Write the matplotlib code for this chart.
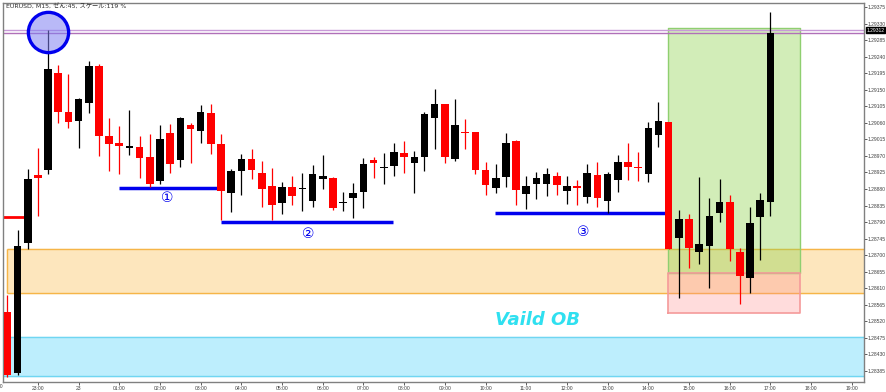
# EURUSD M15 - Vaild OB chart

import numpy as np
import matplotlib.pyplot as plt

plt.rcParams['font.family'] = ['DejaVu Sans', 'Noto Sans CJK JP']

# Datos de velas (precio)
opens = [1.28545, 1.28379, 1.28733, 1.28918, 1.28932, 1.29195, 1.29089, 1.29065,
         1.29114, 1.29215, 1.29024, 1.29005, 1.28991, 1.28994, 1.28967, 1.28902,
         1.29032, 1.28959, 1.29054, 1.29038, 1.29087, 1.29002, 1.28869, 1.28929,
         1.28962, 1.28923, 1.28888, 1.28842, 1.28885, 1.28880, 1.28847, 1.28907,
         1.28910, 1.28842, 1.28855, 1.28872, 1.28959, 1.28937, 1.28943, 1.28978,
         1.28951, 1.28967, 1.29073, 1.29111, 1.28962, 1.29035, 1.29035, 1.28932,
         1.28883, 1.28913, 1.29010, 1.28866, 1.28894, 1.28894, 1.28915, 1.28875,
         1.28888, 1.28858, 1.28918, 1.28847, 1.28904, 1.28953, 1.28940, 1.28921,
         1.29027, 1.29062, 1.28747, 1.28798, 1.28709, 1.28725, 1.28815, 1.28845,
         1.28709, 1.28638, 1.28804, 1.28845]
highs = [1.28592, 1.28768, 1.28934, 1.28991, 1.29312, 1.29217, 1.29193, 1.29127,
         1.29228, 1.29220, 1.29073, 1.29051, 1.29095, 1.29024, 1.29030, 1.29054,
         1.29057, 1.29076, 1.29059, 1.29108, 1.29111, 1.29030, 1.28934, 1.28975,
         1.28989, 1.28956, 1.28937, 1.28899, 1.28915, 1.28923, 1.28945, 1.28972,
         1.28913, 1.28872, 1.28896, 1.28964, 1.28967, 1.28978, 1.29005, 1.29010,
         1.28983, 1.29089, 1.29152, 1.29111, 1.29125, 1.29070, 1.29035, 1.28953,
         1.28948, 1.29032, 1.29013, 1.28915, 1.28926, 1.28937, 1.28926, 1.28915,
         1.28904, 1.28948, 1.28953, 1.28926, 1.28972, 1.29005, 1.28981, 1.29062,
         1.29117, 1.29062, 1.28823, 1.28812, 1.28913, 1.28855, 1.28907, 1.28864,
         1.28719, 1.28831, 1.28869, 1.29361]
lows = [1.28369, 1.28374, 1.28717, 1.28807, 1.28921, 1.29059, 1.29046, 1.28991,
        1.29087, 1.28970, 1.28929, 1.28921, 1.28972, 1.28910, 1.28885, 1.28894,
        1.28923, 1.28940, 1.28951, 1.29005, 1.28975, 1.28796, 1.28817, 1.28864,
        1.28907, 1.28831, 1.28796, 1.28812, 1.28836, 1.28820, 1.28831, 1.28880,
        1.28823, 1.28820, 1.28801, 1.28828, 1.28910, 1.28894, 1.28915, 1.28923,
        1.28869, 1.28929, 1.28989, 1.28951, 1.28956, 1.28989, 1.28921, 1.28864,
        1.28869, 1.28885, 1.28836, 1.28826, 1.28853, 1.28861, 1.28864, 1.28839,
        1.28836, 1.28842, 1.28831, 1.28815, 1.28872, 1.28904, 1.28902, 1.28899,
        1.28994, 1.28717, 1.28583, 1.28665, 1.28676, 1.28611, 1.28790, 1.28684,
        1.28567, 1.28597, 1.28687, 1.28807]
closes = [1.28374, 1.28725, 1.28907, 1.28910, 1.29206, 1.29089, 1.29062, 1.29125,
          1.29215, 1.29024, 1.29002, 1.28997, 1.28997, 1.28964, 1.28894, 1.29016,
          1.28948, 1.29073, 1.29043, 1.29089, 1.29002, 1.28875, 1.28929, 1.28962,
          1.28932, 1.28880, 1.28836, 1.28885, 1.28861, 1.28883, 1.28921, 1.28915,
          1.28828, 1.28845, 1.28869, 1.28948, 1.28951, 1.28940, 1.28981, 1.28967,
          1.28967, 1.29084, 1.29111, 1.28967, 1.29054, 1.29032, 1.28932, 1.28891,
          1.28910, 1.29005, 1.28877, 1.28888, 1.28910, 1.28921, 1.28891, 1.28888,
          1.28883, 1.28923, 1.28855, 1.28921, 1.28953, 1.28940, 1.28937, 1.29046,
          1.29065, 1.28717, 1.28798, 1.28719, 1.28730, 1.28807, 1.28845, 1.28717,
          1.28643, 1.28787, 1.28850, 1.29304]

# Eje de tiempo (velas de 15 min, la primera a las 22:15)
hour_labels = ['23:00', '23', '01:00', '02:00', '03:00', '04:00', '05:00', '06:00',
               '07:00', '08:00', '09:00', '10:00', '11:00', '12:00', '13:00',
               '14:00', '15:00', '16:00', '17:00', '18:00', '19:00']
price_ticks = [1.28385, 1.28430, 1.28475, 1.28520, 1.28565, 1.28610, 1.28655,
               1.28700, 1.28745, 1.28790, 1.28835, 1.28880, 1.28925, 1.28970,
               1.29015, 1.29060, 1.29105, 1.29150, 1.29195, 1.29240, 1.29285,
               1.29330, 1.29375]

# Zonas y niveles
ob_zone = (1.28597, 1.28716)       # naranja
low_zone = (1.28371, 1.28477)      # celeste
tp_box = (1.28651, 1.29318)        # verde
sl_box = (1.28543, 1.28651)        # rosa
purple_lines = [1.29313, 1.29304]
current_price = 1.29312
levels = [(1.28882, 10.97, 21.0, '①', 15.7, 1.28855),
          (1.28790, 21.0, 37.9, '②', 29.6, 1.28757),
          (1.28815, 47.9, 64.9, '③', 56.6, 1.28763)]

o = np.array(opens)
h = np.array(highs)
l = np.array(lows)
c = np.array(closes)
x = np.arange(len(o))
up = c >= o
col = np.where(up, 'black', '#ff0000')

fig = plt.figure(figsize=(8.86, 3.92), dpi=100)
ax = fig.add_axes([3/886, 10/392, 861/886, 379/392])
xmin, xmax = -0.43, 84.2
ax.set_xlim(xmin, xmax)
ax.set_ylim(1.28355, 1.29386)

# Zonas
ax.fill_between([xmin, xmax], *low_zone, color='#bdeefd', zorder=0)
ax.hlines(low_zone, xmin, xmax, color='#70d6f2', lw=1, zorder=0.5)
ax.fill_between([0, xmax], *ob_zone, color='#fde6bd', zorder=0)
ax.hlines(ob_zone, 0, xmax, color='#f6b548', lw=1, zorder=0.5)
ax.vlines(0, *ob_zone, color='#f6b548', lw=1, zorder=0.5)
ax.fill_between([64.95, 77.9], *tp_box, color='#8fd44f', alpha=0.4, lw=0, zorder=1)
ax.fill_between([64.95, 77.9], *sl_box, color='#ff8c8c', alpha=0.3, lw=0, zorder=1)
ax.plot([64.95, 64.95, 77.9, 77.9, 64.95], [tp_box[0], tp_box[1], tp_box[1], tp_box[0], tp_box[0]],
        color='#8fcf70', lw=1, zorder=1.1)
ax.plot([64.95, 64.95, 77.9, 77.9, 64.95], [sl_box[0], sl_box[1], sl_box[1], sl_box[0], sl_box[0]],
        color='#f59a9a', lw=1.2, zorder=1.1)

# Lineas horizontales
ax.axhline(purple_lines[0], color='#c89ad8', lw=1, zorder=1.5)
ax.axhline(purple_lines[1], color='#b070b8', lw=1, zorder=1.5)
ax.hlines(1.28804, xmin, 1.9, color='#ff0000', lw=2, zorder=2)
ax.hlines(1.28475, xmin, -0.05, color='#2020d0', lw=2, zorder=2)

for lvl, x0, x1, lab, tx, ty in levels:
    ax.hlines(lvl, x0, x1, color='#0000ee', lw=2.5, zorder=3)
    ax.text(tx, ty, lab, color='#0000ee', fontsize=10, ha='center', va='center',
            family=['DejaVu Sans', 'Noto Sans CJK JP'], zorder=3)

# Velas
ax.vlines(x, l, h, color=col, lw=0.9, zorder=4)
body = np.maximum(np.abs(c - o), 0.00004)
ax.bar(x, body, bottom=np.minimum(o, c), width=0.75, color=col, zorder=5)

# Circulo en el maximo
ax.plot([4], [1.29307], 'o', ms=29, mfc=(0.5, 0.5, 0.95, 0.55), mec='#0000ee',
        mew=2.4, zorder=6)

ax.text(52.1, 1.28524, 'Vaild OB', color='#2fe0f0', fontsize=13, fontweight='bold',
        fontstyle='italic', ha='center', va='center', zorder=6)

# Ejes
ax.set_xticks(3 + 4*np.arange(len(hour_labels)))
ax.set_xticklabels(hour_labels)
ax.yaxis.tick_right()
ax.set_yticks(price_ticks)
ax.set_yticklabels(['%.5f' % p for p in price_ticks])
ax.tick_params(labelsize=3.6, colors='#404040', length=2, width=0.6, pad=0.8,
               labelfontfamily='Liberation Sans')
for s in ax.spines.values():
    s.set_color('#808080')
    s.set_linewidth(1)

# Etiqueta de precio actual
ax.text(1.0025, current_price, '%.5f' % current_price, transform=ax.get_yaxis_transform(),
        fontsize=3.6, family='Liberation Sans', color='white', va='center', ha='left',
        bbox=dict(boxstyle='square,pad=0.12', fc='black', ec='black'), zorder=10, clip_on=False)

fig.text(-3/886, 5/392, '22:00', fontsize=3.6, family='Liberation Sans', color='#404040',
         ha='center', va='center')
fig.text(6/886, 1 - 7/392, 'EURUSD, M15, ゼん:45, スケール:119 %', fontsize=4.5,
         color='#303030', ha='left', va='center')

plt.savefig('out.png', dpi=100)
